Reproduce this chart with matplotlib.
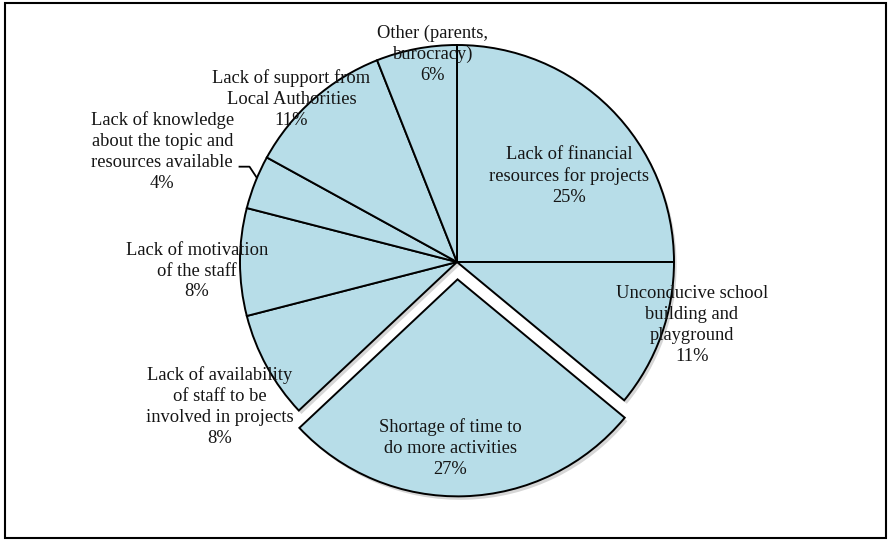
import numpy as np
import matplotlib
matplotlib.use("Agg")
from matplotlib import pyplot as plt
from matplotlib import patches

plt.rcParams["font.family"] = ["Liberation Serif", "DejaVu Serif"]

labels = [
    "Lack of financial\nresources for projects",
    "Unconducive school\nbuilding and\nplayground",
    "Shortage of time to\ndo more activities",
    "Lack of availability\nof staff to be\ninvolved in projects",
    "Lack of motivation\nof the staff",
    "Lack of knowledge\nabout the topic and\nresources available",
    "Lack of support from\nLocal Authorities",
    "Other (parents,\nburocracy)",
]
shares = [25, 11, 27, 8, 8, 4, 11, 6]

# label placement (distance in radii, angle offset in degrees from slice middle)
label_dist = [0.65, 1.12, 0.78, 1.28, 1.20, 1.45, 1.07, 0.965]
label_rot = [-7.6, 4.7, -4.3, 2.6, 2, 1.1, 4.1, -4.2]
explode = [0, 0, 0.08, 0, 0, 0, 0, 0]

W, H = 893, 541
cx, cy, R = 457, 262, 217

fig = plt.figure(figsize=(W / 100, H / 100), dpi=100)
ax = fig.add_axes([0, 0, 1, 1])

# soft shadow underneath
ax.pie(shares, startangle=90, counterclock=False, explode=explode, center=(0.012, -0.016),
       colors=["#8a8a8a"] * len(shares), radius=1.0,
       wedgeprops=dict(linewidth=0, alpha=0.35))

wedges, _ = ax.pie(shares, startangle=90, counterclock=False, explode=explode,
                   colors=["#b7dde8"] * len(shares), radius=1.0,
                   wedgeprops=dict(edgecolor="black", linewidth=1.4))

ax.set_xlim(-cx / R, (W - cx) / R)
ax.set_ylim(-(H - cy) / R, cy / R)
ax.axis("off")

for i, w in enumerate(wedges):
    mid = (w.theta1 + w.theta2) / 2
    ox = explode[i] * np.cos(np.deg2rad(mid))
    oy = explode[i] * np.sin(np.deg2rad(mid))
    a = np.deg2rad(mid + label_rot[i])
    x = ox + label_dist[i] * np.cos(a)
    y = oy + label_dist[i] * np.sin(a)
    ax.text(x, y, f"{labels[i]}\n{shares[i]}%", ha="center", va="center",
            fontsize=13.3, linespacing=1.3, color="#151515")

# leader line for the small "knowledge" slice
w = wedges[5]
a = np.deg2rad((w.theta1 + w.theta2) / 2 - 1)
ex, ey = np.cos(a), np.sin(a)
ax.plot([ex - 0.079, ex - 0.033, ex], [ey + 0.055, ey + 0.055, ey + 0.005],
        color="black", linewidth=1.3)

fig.patches.append(patches.Rectangle((5 / W, 3 / H), 881 / W, 535 / H,
                                     transform=fig.transFigure, fill=False,
                                     edgecolor="black", linewidth=1.5))

fig.savefig("out.png", dpi=100)
